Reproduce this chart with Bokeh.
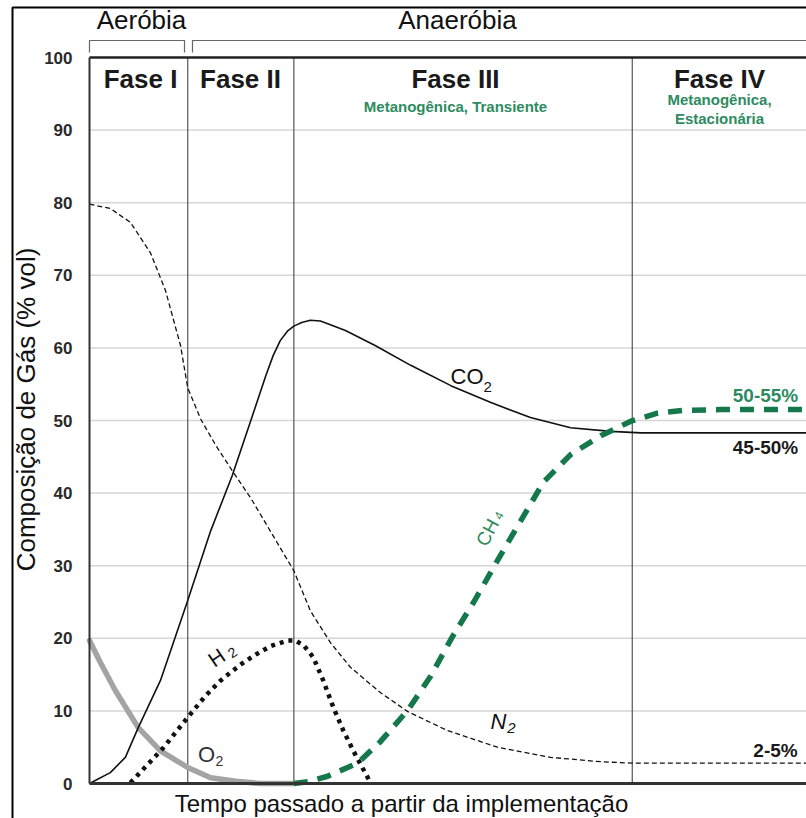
import math
from bokeh.plotting import figure
from bokeh.models import Label, Range1d, FixedTicker, LinearAxis
from bokeh.embed import file_html
from bokeh.resources import INLINE

# ---------------- data (time in % of plotted span, composition in % vol) -------------
phase_bounds = [13.7, 28.5, 75.7]
phase_names = ["Fase I", "Fase II", "Fase III", "Fase IV"]
y_ticks = [0, 10, 20, 30, 40, 50, 60, 70, 80, 90, 100]
grid_vals = [10, 20, 30, 40, 50, 60, 70, 80, 90]

co2_t = [0, 2.9, 5.0, 6.8, 9.9, 13.7, 16.9, 19.9, 22.5, 24.6, 25.6, 26.6, 27.6, 28.5,
         29.6, 30.8, 32.2, 33.6, 35.7, 39.9, 44.8, 50.4, 55.9, 61.5, 67.1, 72.7, 76.9, 100]
co2_v = [0, 1.5, 3.6, 7.7, 14.2, 25.2, 34.8, 42.4, 50.0, 56.2, 58.9, 61.0, 62.3, 63.0,
         63.5, 63.8, 63.7, 63.2, 62.4, 60.3, 57.6, 54.8, 52.5, 50.4, 49.0, 48.5, 48.3, 48.3]

n2_t = [0, 2.9, 5.7, 8.5, 10.6, 12.7, 13.7, 15.5, 17.6, 19.9, 22.5, 25.2, 28.5, 30.8,
        33.6, 36.4, 40.6, 44.4, 49.9, 56.9, 64.3, 71.3, 75.7, 100]
n2_v = [79.8, 79.2, 77.3, 73.1, 67.9, 60.3, 54.5, 50.2, 46.6, 43.1, 39.3, 34.8, 29.3, 23.8,
        19.4, 16.0, 12.5, 9.9, 7.3, 5.0, 3.6, 3.0, 2.8, 2.8]

o2_t = [0, 1.5, 3.6, 6.8, 9.9, 13.7, 16.9, 20.4, 23.8, 28.5]
o2_v = [19.7, 16.7, 12.8, 7.7, 4.5, 2.2, 0.8, 0.3, 0.0, 0.0]

h2_t = [5.7, 8.0, 10.2, 13.7, 16.2, 18.3, 21.1, 22.9, 25.2, 27.6, 28.7, 29.9, 31.2,
        32.6, 34.0, 35.4, 36.8, 38.1, 39.2]
h2_v = [0.1, 2.5, 4.8, 9.1, 12.1, 14.2, 16.4, 17.6, 18.9, 19.7, 19.7, 19.0, 17.4,
        14.2, 10.5, 7.3, 4.5, 2.1, 0.1]

ch4_t = [28.5, 30.8, 33.2, 37.4, 40.6, 44.4, 47.6, 50.6, 53.6, 57.3, 60.1, 63.3, 67.1,
         71.3, 75.5, 79.2, 82.8, 88.0, 100]
ch4_v = [0, 0.3, 1.0, 2.8, 5.8, 10.1, 14.8, 20.2, 25.0, 31.4, 36.1, 41.5, 45.3,
         47.9, 49.9, 51.0, 51.4, 51.5, 51.5]

GREEN = "#15784a"
GREEN_TXT = "#2e8b5f"
FONT = "Liberation Sans"
W, H = 806, 818


def tx(px):
    return (px - 89) / 7.17


def vy(py):
    return (783 - py) / 7.26


p = figure(width=W, height=H, x_range=Range1d(tx(0), tx(W)), y_range=Range1d(vy(H), vy(0)),
           output_backend="svg", toolbar_location=None, title=None,
           x_axis_location=None, y_axis_location=None,
           min_border_left=0, min_border_right=0, min_border_top=0, min_border_bottom=0)
p.outline_line_color = None
p.background_fill_color = "white"
p.border_fill_color = "white"
for g in p.grid:
    g.visible = False

# grid lines (inside the data area only)
p.segment(x0=[0] * len(grid_vals), y0=grid_vals, x1=[100] * len(grid_vals), y1=grid_vals,
          line_color="#d6d6d6", line_width=1.5)

# axes fixed at the data origin
yax = LinearAxis(fixed_location=0, bounds=(0, 100), ticker=FixedTicker(ticks=y_ticks))
yax.major_tick_line_color = None
yax.minor_tick_line_color = None
yax.axis_line_color = "#333333"
yax.axis_line_width = 2
yax.major_label_text_font = FONT
yax.major_label_text_font_style = "bold"
yax.major_label_text_font_size = "17px"
yax.major_label_text_color = "#2a2a2a"
yax.major_label_standoff = 11
p.add_layout(yax, "left")

xax = LinearAxis(fixed_location=0, bounds=(0, 100), ticker=FixedTicker(ticks=[]))
xax.major_tick_line_color = None
xax.minor_tick_line_color = None
xax.axis_line_color = "#333333"
xax.axis_line_width = 3
xax.major_label_text_font_size = "0px"
p.add_layout(xax, "below")

# phase separators and top edge
p.segment(x0=phase_bounds, y0=[0] * 3, x1=phase_bounds, y1=[100] * 3,
          line_color="#555555", line_width=1.2)
p.segment(x0=[0], y0=[100], x1=[100], y1=[100], line_color="#222222", line_width=2.5)

# curves
p.line(o2_t, o2_v, line_color="#a4a4a4", line_width=5.5, line_cap="round")
p.line(co2_t, co2_v, line_color="#111111", line_width=1.6)
p.line(n2_t, n2_v, line_color="#111111", line_width=1.3, line_dash="5 3")
p.line(h2_t, h2_v, line_color="#111111", line_width=4.5, line_dash="4 5")
p.line(ch4_t, ch4_v, line_color=GREEN, line_width=5.5, line_dash="14 10")


def lab(text, px, py, size, color="#111111", style="normal", align="center",
        baseline="middle", angle=0.0):
    p.add_layout(Label(x=tx(px), y=vy(py), text=text, text_font=FONT,
                       text_font_size=f"{size}px", text_color=color,
                       text_font_style=style, text_align=align,
                       text_baseline=baseline, angle=angle))


def seg(pts, color="#666666", width=1.2):
    p.line([tx(a) for a, b in pts], [vy(b) for a, b in pts], line_color=color,
           line_width=width)


# outer frame lines
seg([(12, H), (12, 7), (W, 7)], color="black", width=2)

# top brackets
seg([(89, 52), (89, 40), (184, 40), (184, 52)])
seg([(192, 52), (192, 40), (W, 40)])

lab("Aeróbia", 141, 19, 26)
lab("Anaeróbia", 457, 19, 26)

# phase headers
phase_px = [140, 240, 455, 719]
for name, px in zip(phase_names, phase_px):
    lab(name, px, 78, 26, color="#1a1a1a", style="bold")
lab("Metanogênica, Transiente", 455, 106, 15, color=GREEN_TXT, style="bold")
lab("Metanogênica,", 719, 99, 15, color=GREEN_TXT, style="bold")
lab("Estacionária", 719, 118, 15, color=GREEN_TXT, style="bold")

# axis titles
lab("Composição de Gás (% vol)", 25, 409, 26, angle=math.pi / 2)
lab("Tempo passado a partir da implementação", 401, 803, 24)

# curve labels
lab("CO", 450, 376, 22, align="left", baseline="alphabetic")
lab("2", 483, 386, 15, align="left", baseline="alphabetic")
lab("H", 216, 657, 21, angle=0.6)
lab("2", 232, 652, 14, angle=0.6)
lab("O", 206, 754, 22, color="#333333")
lab("2", 219, 760, 14, color="#333333")
lab("N", 498, 721, 22, style="italic")
lab("2", 511, 727, 15, style="italic")
lab("CH", 487, 532, 19, color=GREEN_TXT, angle=1.08)
lab("4", 498, 515, 12, color=GREEN_TXT, angle=1.08)

lab("50-55%", 765, 395, 19, color=GREEN_TXT, style="bold")
lab("45-50%", 765, 447, 19, color="#1a1a1a", style="bold")
lab("2-5%", 775, 750, 19, color="#1a1a1a", style="bold")

open("out.html", "w").write(file_html(p, INLINE))
